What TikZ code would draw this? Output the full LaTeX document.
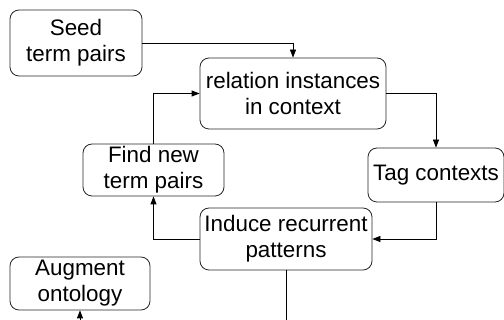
\documentclass[tikz,border=0pt]{standalone}
\usepackage{fontspec}
\setmainfont{Liberation Sans}
\usetikzlibrary{arrows.meta}

\begin{document}
\begin{tikzpicture}[x=1pt,y=-1pt,
    stepbox/.style={draw=black!85,line width=0.8pt,rounded corners=9pt,align=center,
      inner sep=0pt,font=\fontsize{22.4}{26}\selectfont},
    flow/.style={line width=0.8pt,-{Triangle[length=8pt,width=6pt]}}]
    \useasboundingbox (0,0) rectangle (504,320);
    \clip (0,0) rectangle (504,320);

    %\draw[help lines] (0,0) grid (504,320);

    \node[stepbox,minimum width=132pt,minimum height=66pt] (seed) at (76,43) {Seed\\term pairs};
    \node[stepbox,minimum width=186pt,minimum height=71pt] (rel) at (293,93.5) {relation instances\\in context};
    \node[stepbox,minimum width=141pt,minimum height=52pt] (find) at (153.5,170) {Find new\\term pairs};
    \node[stepbox,minimum width=136pt,minimum height=54pt] (tag) at (436,175) {Tag contexts};
    \node[stepbox,minimum width=172pt,minimum height=62pt] (induce) at (286,239) {Induce recurrent\\patterns};
    \node[stepbox,minimum width=140pt,minimum height=53pt] (augment) at (80,283.5) {Augment\\ontology};
    \coordinate (below) at (286,345);

    \draw[flow] (seed.east) -| (rel.north);
    \draw[flow] (find.north) |- (rel.west);
    \draw[flow] (rel.east) -| (tag.north);
    \draw[flow] (tag.south) |- (induce.east);
    \draw[flow] (induce.west) -| (find.south);
    \draw[flow] (induce.south) -- (below) -| (augment.south);
\end{tikzpicture}
\end{document}
